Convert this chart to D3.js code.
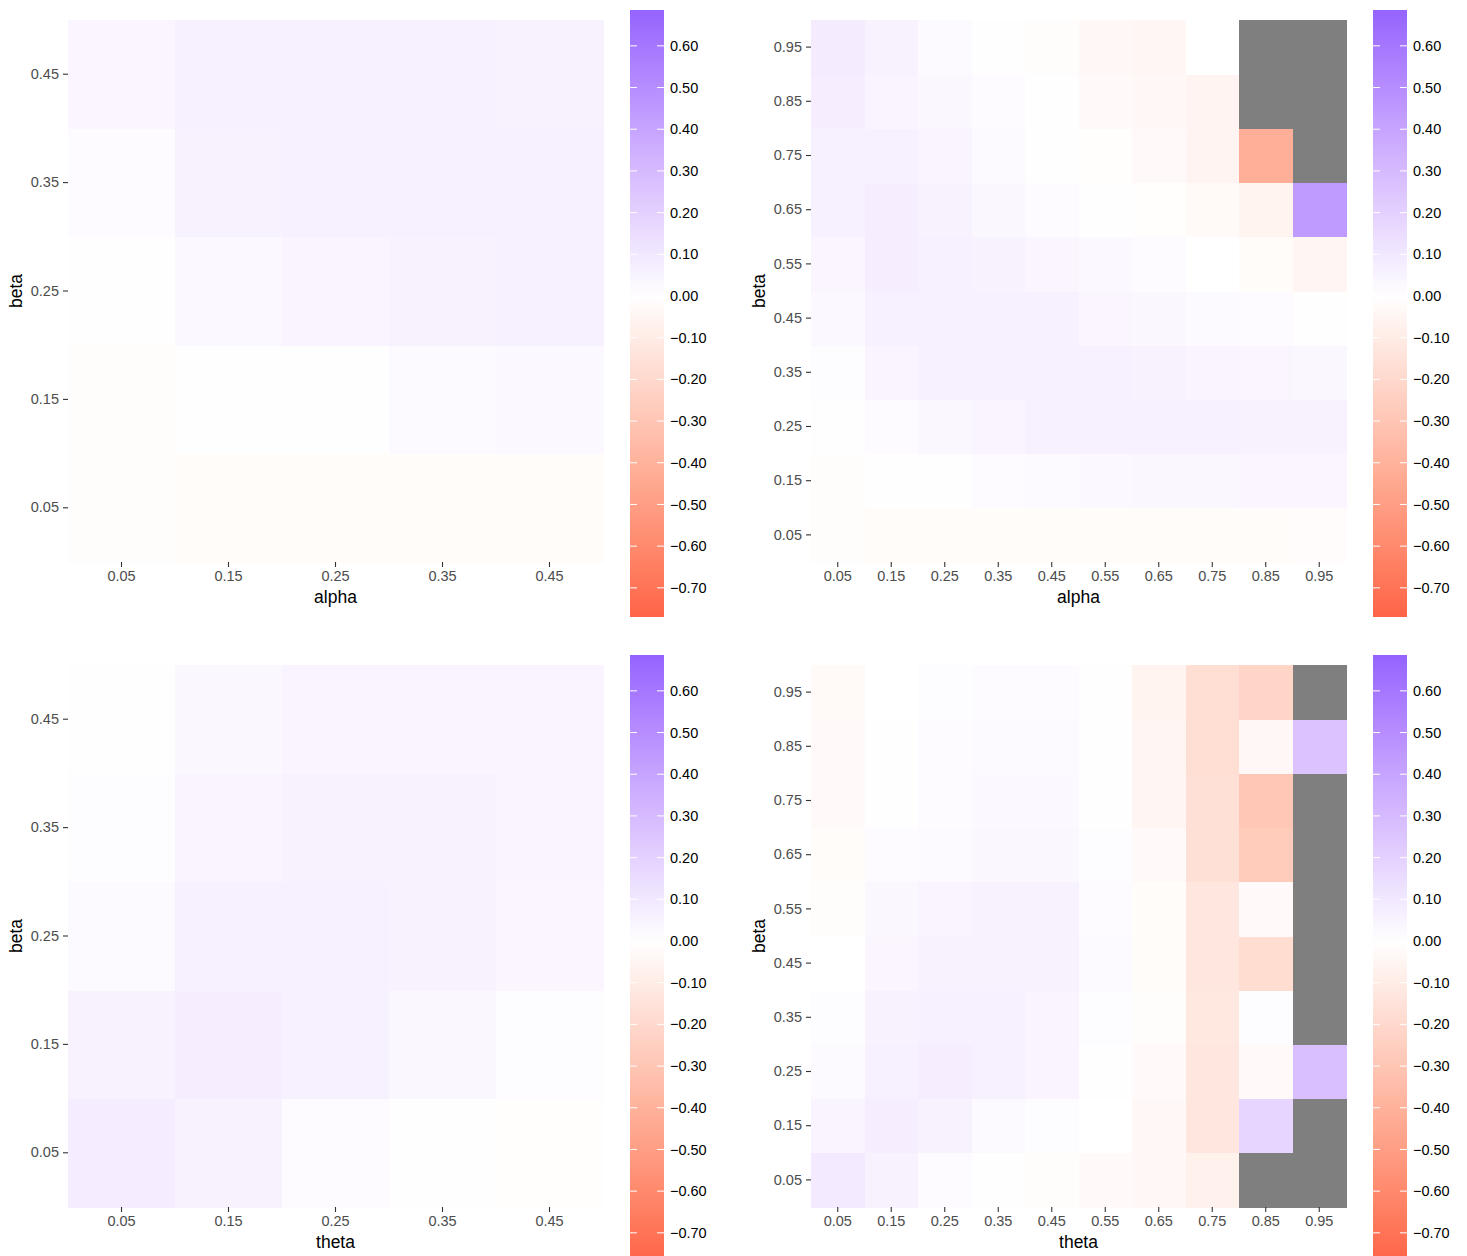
<!DOCTYPE html>
<html>
<head>
<meta charset="utf-8">
<script src="https://cdn.jsdelivr.net/npm/d3@7"></script>
<style>
  body { margin: 0; background: #ffffff; }
  text { font-family: 'Liberation Sans', Arial, sans-serif; }
</style>
</head>
<body>
<div id="grafica"></div>
<script>
// ticks de los ejes
niveles5  = ['0.05', '0.15', '0.25', '0.35', '0.45']
niveles10 = ['0.05', '0.15', '0.25', '0.35', '0.45', '0.55', '0.65', '0.75', '0.85', '0.95']
leyendaTicks = [0.6, 0.5, 0.4, 0.3, 0.2, 0.1, 0, -0.1, -0.2, -0.3, -0.4, -0.5, -0.6, -0.7]

// valores: filas de beta (de abajo 0.05 hacia arriba), columnas alpha / theta. null = NA
alphaBeta5 = [
  [-0.012, -0.018, -0.018, -0.018, -0.018],
  [-0.012,  0.006,  0.004,  0.025,  0.030],
  [ 0.004,  0.030,  0.048,  0.055,  0.066],
  [ 0.018,  0.055,  0.066,  0.066,  0.066],
  [ 0.042,  0.060,  0.066,  0.060,  0.054]
]

alphaBeta10 = [
  [-0.012, -0.018, -0.018, -0.018, -0.018, -0.018, -0.018, -0.018, -0.018, -0.014],
  [-0.012,  0.004,  0.003,  0.018,  0.024,  0.030,  0.036,  0.036,  0.042,  0.042],
  [ 0.003,  0.018,  0.036,  0.048,  0.060,  0.060,  0.060,  0.060,  0.055,  0.055],
  [ 0.015,  0.048,  0.060,  0.066,  0.066,  0.066,  0.055,  0.048,  0.042,  0.036],
  [ 0.030,  0.060,  0.066,  0.066,  0.060,  0.042,  0.036,  0.024,  0.018,  0.003],
  [ 0.042,  0.072,  0.066,  0.055,  0.042,  0.030,  0.018,  0.000, -0.018, -0.045],
  [ 0.060,  0.072,  0.055,  0.036,  0.018,  0.004, -0.006, -0.030, -0.060,  0.440],
  [ 0.066,  0.066,  0.048,  0.024,  0.004, -0.006, -0.024, -0.055, -0.420,  null],
  [ 0.072,  0.048,  0.036,  0.018,  0.004, -0.024, -0.036, -0.055,  null,   null],
  [ 0.084,  0.055,  0.024,  0.004, -0.012, -0.036, -0.042,  0.002,  null,   null]
]

thetaBeta5 = [
  [ 0.078,  0.055,  0.018,  0.003, -0.006],
  [ 0.055,  0.072,  0.060,  0.036,  0.012],
  [ 0.024,  0.060,  0.066,  0.055,  0.042],
  [ 0.012,  0.048,  0.055,  0.055,  0.048],
  [ 0.004,  0.036,  0.048,  0.048,  0.048]
]

thetaBeta10 = [
  [ 0.090,  0.055,  0.018,  0.003, -0.012, -0.024, -0.036, -0.070,  null,   null],
  [ 0.048,  0.072,  0.055,  0.024,  0.012,  0.002, -0.036, -0.130,  0.180,  null],
  [ 0.024,  0.066,  0.072,  0.060,  0.048,  0.006, -0.024, -0.130, -0.024,  0.280],
  [ 0.012,  0.055,  0.060,  0.060,  0.048,  0.012, -0.012, -0.120,  0.012,  null],
  [ 0.000,  0.042,  0.055,  0.055,  0.055,  0.024, -0.018, -0.130, -0.180,  null],
  [-0.012,  0.036,  0.048,  0.055,  0.055,  0.018, -0.018, -0.130, -0.024,  null],
  [-0.018,  0.018,  0.024,  0.036,  0.036,  0.012, -0.024, -0.160, -0.270,  null],
  [-0.024,  0.006,  0.018,  0.030,  0.030,  0.004, -0.048, -0.160, -0.290,  null],
  [-0.024,  0.004,  0.018,  0.024,  0.024,  0.004, -0.048, -0.170, -0.036,  0.260],
  [-0.030,  0.002,  0.012,  0.018,  0.018,  0.004, -0.060, -0.170, -0.220,  null]
]

paneles = [
  { datos: alphaBeta5,  niveles: niveles5,  xlab: 'alpha', dx: 0,   dy: 0 },
  { datos: alphaBeta10, niveles: niveles10, xlab: 'alpha', dx: 743, dy: 0 },
  { datos: thetaBeta5,  niveles: niveles5,  xlab: 'theta', dx: 0,   dy: 645 },
  { datos: thetaBeta10, niveles: niveles10, xlab: 'theta', dx: 743, dy: 645 }
]

limites = [-0.77, 0.686]

color = d3
          .scaleLinear()
          .domain([-0.77, 0, 0.77])
          .range(['#ff6347', '#ffffff', '#8450ff'])
          .interpolate(d3.interpolateLab)

svg = d3
        .select('#grafica')
        .append('svg')
        .attr('width', 1467)
        .attr('height', 1256)

margin = { left: 68, right: 603, top: 20, bottom: 562 }

function dibujarPanel(p, idx) {
  g = svg
        .append('g')
        .attr('transform', 'translate(' + p.dx + ',' + p.dy + ')')

  x = d3
        .scaleBand()
        .domain(p.niveles)
        .range([margin.left, margin.right])
  y = d3
        .scaleBand()
        .domain(p.niveles)
        .range([margin.bottom, margin.top])

  celdas = []
  p.datos.forEach((fila, i) => {
    fila.forEach((v, j) => {
      celdas.push({ x: p.niveles[j], y: p.niveles[i], v: v })
    })
  })

  g.selectAll('rect.celda')
    .data(celdas)
    .enter()
    .append('rect')
      .attr('class', 'celda')
      .attr('x', (d) => x(d.x))
      .attr('y', (d) => y(d.y))
      .attr('width', x.bandwidth() + 0.5)
      .attr('height', y.bandwidth() + 0.5)
      .attr('shape-rendering', 'crispEdges')
      .attr('fill', (d) => d.v === null ? '#7f7f7f' : color(d.v))

  xAxis = g
            .append('g')
            .attr('transform', 'translate(0,' + margin.bottom + ')')
            .call(d3.axisBottom(x).tickSize(5).tickPadding(4))
  yAxis = g
            .append('g')
            .attr('transform', 'translate(' + margin.left + ',0)')
            .call(d3.axisLeft(y).tickSize(5).tickPadding(4))

  ;[xAxis, yAxis].forEach((a) => {
    a.select('.domain').remove()
    a.selectAll('line').attr('stroke', '#333333').attr('stroke-width', 1.1)
    a.selectAll('text')
      .attr('fill', '#4d4d4d')
      .attr('font-size', '14.5px')
      .attr('font-family', "'Liberation Sans', Arial, sans-serif")
  })

  g.append('text')
    .attr('x', (margin.left + margin.right) / 2)
    .attr('y', 603)
    .attr('text-anchor', 'middle')
    .attr('font-size', '17.5px')
    .attr('fill', '#000000')
    .text(p.xlab)

  g.append('text')
    .attr('transform', 'translate(22,' + (margin.top + margin.bottom) / 2 + ') rotate(-90)')
    .attr('text-anchor', 'middle')
    .attr('font-size', '17.5px')
    .attr('fill', '#000000')
    .text('beta')

  // barra de color
  cb = d3
         .scaleLinear()
         .domain(limites)
         .range([617, 10])

  gradId = 'grad' + idx
  grad = svg
           .append('defs')
           .append('linearGradient')
           .attr('id', gradId)
           .attr('x1', 0).attr('y1', 1).attr('x2', 0).attr('y2', 0)
  d3.range(0, 41).forEach((k) => {
    v = limites[0] + (limites[1] - limites[0]) * k / 40
    grad.append('stop')
      .attr('offset', (k / 40 * 100) + '%')
      .attr('stop-color', color(v))
  })

  g.append('rect')
    .attr('x', 630)
    .attr('y', cb(limites[1]))
    .attr('width', 34)
    .attr('height', cb(limites[0]) - cb(limites[1]))
    .attr('fill', 'url(#' + gradId + ')')

  marcas = g
             .selectAll('g.marca')
             .data(leyendaTicks)
             .enter()
             .append('g')
             .attr('class', 'marca')
             .attr('transform', (d) => 'translate(0,' + cb(d) + ')')
  marcas.append('line')
    .attr('x1', 630).attr('x2', 637)
    .attr('stroke', '#ffffff').attr('stroke-width', 1)
  marcas.append('line')
    .attr('x1', 657).attr('x2', 664)
    .attr('stroke', '#ffffff').attr('stroke-width', 1)
  marcas.append('text')
    .attr('x', 670)
    .attr('dy', '0.35em')
    .attr('font-size', '14.5px')
    .attr('fill', '#000000')
    .text((d) => d3.format('.2f')(d).replace('-', '\u2212'))
}

paneles.forEach((p, i) => dibujarPanel(p, i))
</script>
</body>
</html>
